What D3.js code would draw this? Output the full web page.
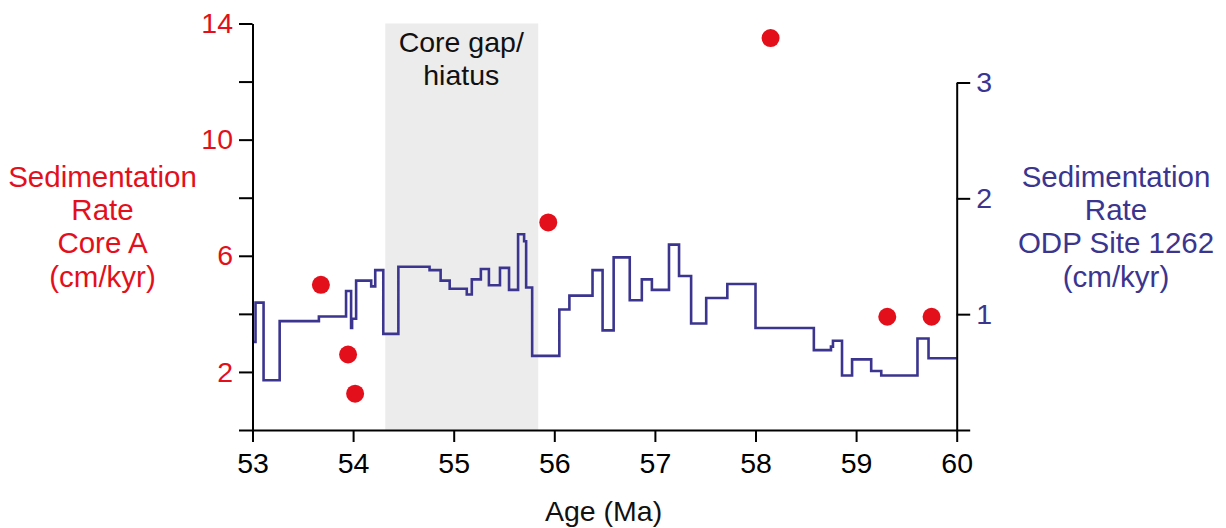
<!DOCTYPE html>
<html>
<head>
<meta charset="utf-8">
<script src="https://cdn.jsdelivr.net/npm/d3@7"></script>
<style>
  html, body { margin: 0; padding: 0; background: #fff; }
  svg { display: block; font-family: "Liberation Sans", Arial, sans-serif; }
</style>
</head>
<body>
<svg id="chart" width="1226" height="528"></svg>
<script>
// ODP Site 1262 sedimentation rate (cm/kyr): each step starts at the given age (Ma)
const stepAges = [53.00, 53.03, 53.11, 53.27, 53.66, 53.93, 53.98, 53.99, 54.03, 54.18,
                  54.22, 54.30, 54.45, 54.76, 54.87, 54.96, 55.13, 55.18, 55.27, 55.35,
                  55.46, 55.55, 55.64, 55.70, 55.72, 55.78, 56.05, 56.15, 56.38, 56.48,
                  56.59, 56.75, 56.87, 56.97, 57.14, 57.24, 57.36, 57.51, 57.72, 58.00,
                  58.58, 58.75, 58.77, 58.86, 58.96, 59.15, 59.25, 59.61, 59.72];
const stepRates = [0.76, 1.10, 0.43, 0.94, 0.98, 1.20, 0.88, 0.96, 1.29, 1.24,
                   1.38, 0.83, 1.41, 1.38, 1.29, 1.22, 1.17, 1.30, 1.39, 1.25,
                   1.40, 1.21, 1.69, 1.63, 1.23, 0.64, 1.04, 1.16, 1.38, 0.86,
                   1.49, 1.12, 1.30, 1.21, 1.60, 1.33, 0.92, 1.14, 1.26, 0.88,
                   0.69, 0.72, 0.77, 0.47, 0.61, 0.51, 0.47, 0.79, 0.62];
const stepEnd = 60.0;

// Core A sedimentation rate (cm/kyr)
const coreAges = [53.68, 53.95, 54.02, 55.94, 58.15, 59.31, 59.75];
const coreRates = [5.0, 2.6, 1.25, 7.15, 13.5, 3.9, 3.9];

// Core gap / hiatus interval (Ma)
const gapInterval = [54.32, 55.84];

// Axis ticks
const ageTicks = [53, 54, 55, 56, 57, 58, 59, 60];
const leftTicks = [0, 2, 4, 6, 8, 10, 12, 14];
const leftLabelled = [2, 6, 10, 14];
const rightTicks = [0, 1, 2, 3];
const rightLabelled = [1, 2, 3];

const RED = "#e3101b";
const BLUE = "#3b358f";
const FONT = 28.5;

const svg = d3.select("#chart");

const x = d3.scaleLinear().domain([53, 60]).range([252.5, 956.7]);
const yLeft = d3.scaleLinear().domain([0, 14]).range([430, 23.5]);
const yRight = d3.scaleLinear().domain([0, 3]).range([430, 82.5]);

// shaded gap
svg.append("rect")
  .attr("x", x(gapInterval[0]))
  .attr("y", yLeft(14))
  .attr("width", x(gapInterval[1]) - x(gapInterval[0]))
  .attr("height", yLeft(0) - yLeft(14))
  .attr("fill", "#ececec");

svg.append("text")
  .attr("text-anchor", "middle")
  .attr("font-size", FONT)
  .attr("fill", "#111")
  .selectAll("tspan")
  .data(["Core gap/", "hiatus"])
  .join("tspan")
  .attr("x", x(d3.mean(gapInterval)) - 0.5)
  .attr("y", (d, i) => 51.7 + i * 33.3)
  .text(d => d);

// step line
const stepPoints = stepAges.map((a, i) => [a, stepRates[i]]);
stepPoints.push([stepEnd, stepRates[stepRates.length - 1]]);
svg.append("path")
  .datum(stepPoints)
  .attr("fill", "none")
  .attr("stroke", BLUE)
  .attr("stroke-width", 2.6)
  .attr("stroke-linejoin", "miter")
  .attr("d", d3.line().x(d => x(d[0])).y(d => yRight(d[1])).curve(d3.curveStepAfter));

// Core A points
svg.append("g")
  .selectAll("circle")
  .data(coreAges.map((a, i) => [a, coreRates[i]]))
  .join("circle")
  .attr("cx", d => x(d[0]))
  .attr("cy", d => yLeft(d[1]))
  .attr("r", 9)
  .attr("fill", RED);

function styleAxis(g, color) {
  g.selectAll(".domain").attr("stroke", "#000").attr("stroke-width", 2);
  g.selectAll(".tick line").attr("stroke", "#000").attr("stroke-width", 2);
  g.selectAll(".tick text")
    .attr("font-size", FONT)
    .attr("font-family", "Liberation Sans, Arial, sans-serif")
    .attr("fill", color);
}

// bottom axis
svg.append("g")
  .attr("transform", `translate(0,${yLeft(0)})`)
  .call(d3.axisBottom(x).tickValues(ageTicks).tickSize(12).tickSizeOuter(0).tickPadding(11).tickFormat(d3.format("d")))
  .call(g => styleAxis(g, "#000"));

// left axis
svg.append("g")
  .attr("transform", `translate(${x(53)},0)`)
  .call(d3.axisLeft(yLeft).tickValues(leftTicks).tickSize(13.5).tickSizeOuter(0).tickPadding(6)
    .tickFormat(d => leftLabelled.includes(d) ? d : ""))
  .call(g => styleAxis(g, RED));

// right axis
svg.append("g")
  .attr("transform", `translate(${x(60)},0)`)
  .call(d3.axisRight(yRight).tickValues(rightTicks).tickSize(13.5).tickSizeOuter(0).tickPadding(6)
    .tickFormat(d => rightLabelled.includes(d) ? d : ""))
  .call(g => styleAxis(g, BLUE));

// axis titles
svg.append("text")
  .attr("x", x(56.5) - 1)
  .attr("y", 520.5)
  .attr("text-anchor", "middle")
  .attr("font-size", FONT)
  .attr("fill", "#111")
  .text("Age (Ma)");

function multiline(cx, lines, color) {
  svg.append("text")
    .attr("text-anchor", "middle")
    .attr("font-size", 29.5)
    .attr("fill", color)
    .selectAll("tspan")
    .data(lines)
    .join("tspan")
    .attr("x", cx)
    .attr("y", (d, i) => 186.7 + i * 33.3)
    .text(d => d);
}
multiline(102.5, ["Sedimentation", "Rate", "Core A", "(cm/kyr)"], RED);
multiline(1116, ["Sedimentation", "Rate", "ODP Site 1262", "(cm/kyr)"], BLUE);
</script>
</body>
</html>
